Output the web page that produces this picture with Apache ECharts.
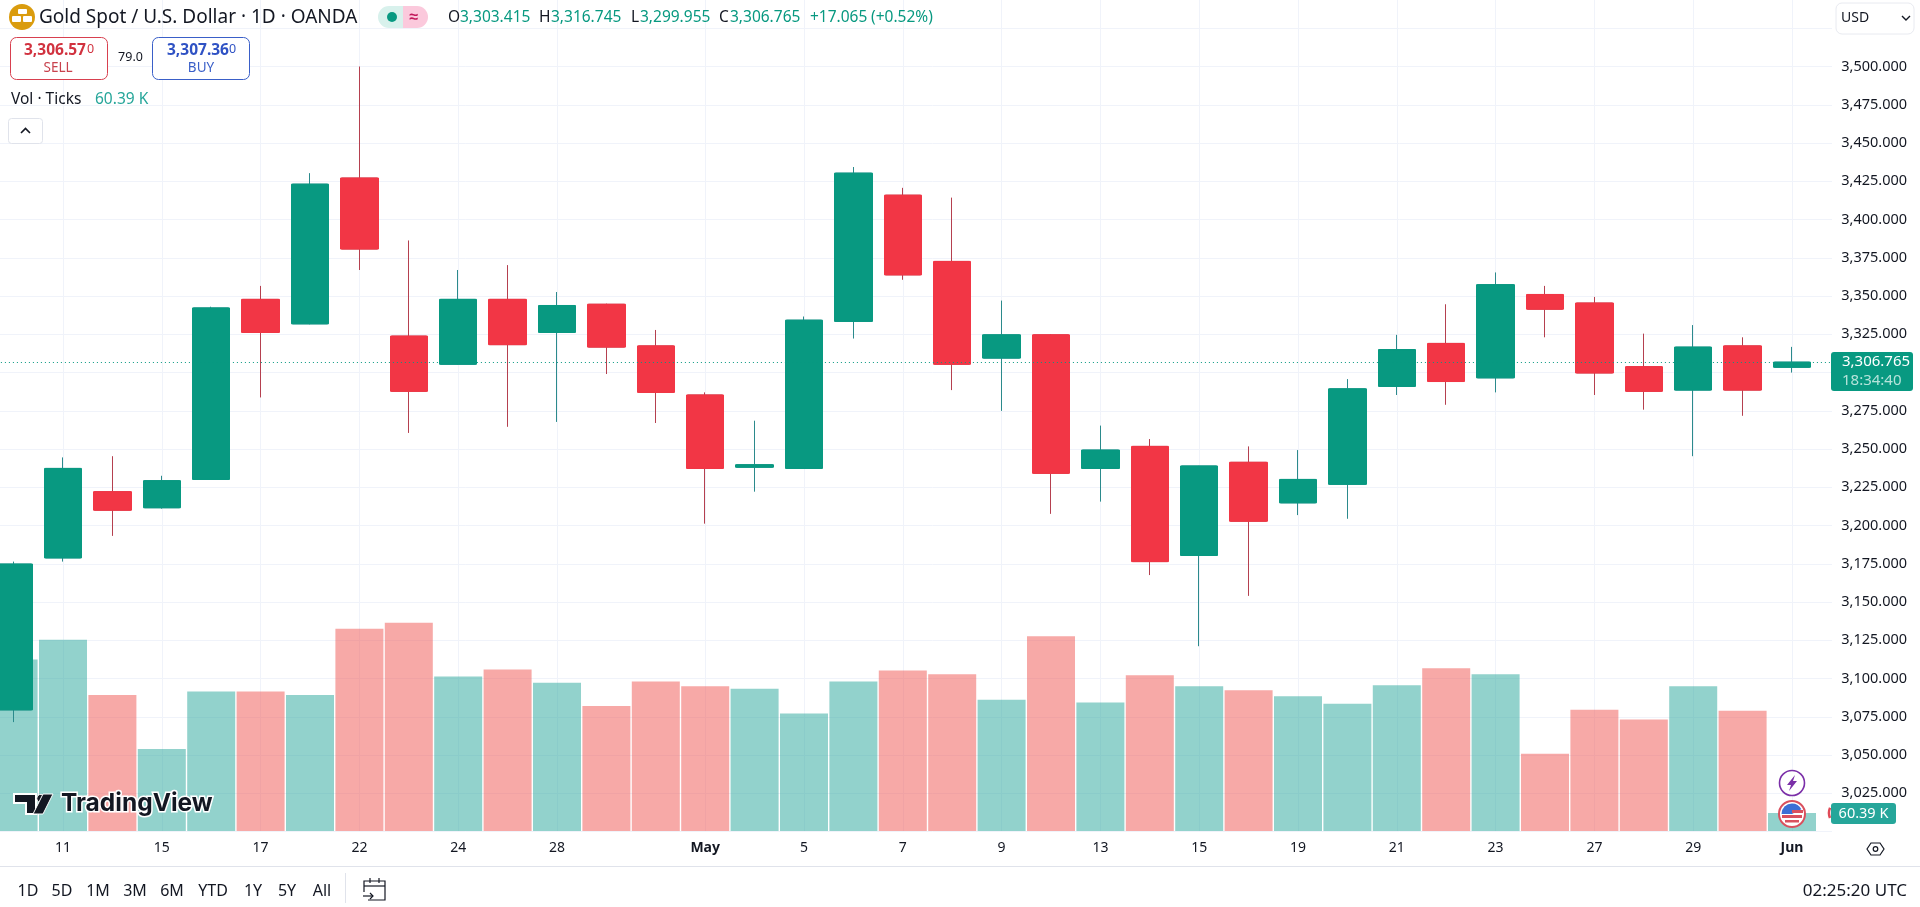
<!DOCTYPE html>
<html><head><meta charset="utf-8">
<style>html,body{margin:0;padding:0;background:#fff;overflow:hidden}#c{width:1920px;height:907px}</style>
<script src="https://cdn.jsdelivr.net/npm/echarts@6/dist/echarts.min.js"></script>
</head><body><div id="c"></div>
<script>
const categories=['Apr 10','Apr 11','Apr 14','Apr 15','Apr 16','Apr 17','Apr 21','Apr 22','Apr 23','Apr 24','Apr 25','Apr 28','Apr 29','Apr 30','May 1','May 2','May 5','May 6','May 7','May 8','May 9','May 12','May 13','May 14','May 15','May 16','May 19','May 20','May 21','May 22','May 23','May 26','May 27','May 28','May 29','May 30','Jun 2','Jun 3'];
const tickLabels=['','11','','15','','17','','22','','24','','28','','','May','','5','','7','','9','','13','','15','','19','','21','','23','','27','','29','','Jun',''];
const openValues=[3079.5,3178.8,3222.1,3211.6,3230.1,3347.8,3331.8,3427.1,3323.8,3305.4,3347.8,3326.2,3344.6,3317.4,3285.3,3238.1,3237.3,3333.4,3415.9,3372.6,3309.4,3324.6,3237.3,3251.7,3180.4,3241.3,3214.8,3226.9,3290.9,3319,3296.5,3351,3345.4,3303.8,3288.5,3317.4,3303.415];
const closeValues=[3174.8,3237.3,3210,3229.3,3342.2,3326.2,3423.1,3380.7,3287.7,3347.8,3318.2,3343.8,3316.6,3287,3237.3,3239.7,3334.2,3430.3,3363.8,3305.4,3324.6,3234.1,3249.3,3176.4,3238.9,3202.8,3230.1,3289.3,3315,3294.1,3357.4,3341.4,3299.7,3287.7,3316.6,3288.5,3306.765];
const lowValues=[3071.5,3176.4,3193.2,3211,3230,3283.7,3331.5,3367,3260.5,3305,3264.5,3267.7,3299,3267,3201.2,3222.1,3237,3322.2,3360.6,3288.5,3274.9,3207.6,3215.6,3167.6,3121.1,3154,3206.8,3204.4,3285.3,3278.9,3287,3323,3285.3,3275.7,3245.3,3271.7,3299.955];
const highValues=[3176.4,3244.5,3245.3,3232.5,3343,3356.6,3430.3,3500,3386.3,3367,3370.2,3352.6,3345,3327.8,3287,3268.5,3336.6,3434.3,3420.7,3414.3,3347,3325,3265.3,3256.5,3239,3251.7,3249.3,3295.7,3324.6,3344.6,3365.4,3356.6,3349.4,3325.4,3331,3323,3316.745];
const volumeValues=[575,641,456,275,468,468,456,678,698,518,542,497,419,501,485,477,394,501,538,526,440,653,431,522,485,472,452,427,489,546,526,259,407,374,485,403,60.39];
const priceTickLabels=[3025,3050,3075,3100,3125,3150,3175,3200,3225,3250,3275,3325,3350,3375,3400,3425,3450,3475,3500];
const lastPrice=3306.765;

const FF='"Noto Sans",sans-serif';
const UP='#089981',DN='#F23645',UPW='#2b8a8c',DNW='#b5404f';
function T(x,y,text,size,fill,o){o=o||{};return {type:'text',z:10,silent:true,style:{x,y,text,fill,font:(o.w||'normal')+' '+size+'px '+FF,textAlign:o.a||'left',textVerticalAlign:'middle'}};}
function R(x,y,w,h,r,fill,stroke,z,lw){return {type:'rect',z:z||9,silent:true,shape:{x,y,width:w,height:h,r},style:{fill,stroke:stroke||null,lineWidth:lw||1}};}
function L(pts,stroke,lw,z){return {type:'polyline',z:z||10,silent:true,shape:{points:pts},style:{stroke,fill:null,lineWidth:lw||1}};}
const tfs=[['1D',28],['5D',62],['1M',98],['3M',135],['6M',172],['YTD',213],['1Y',253],['5Y',287],['All',322]];
const g=[
 R(1832,0,88,832,0,'#fff',null,5),
 R(1836,3,78,31,6,'#fff','#e8eaf0',9),
 T(1841,18,'USD',14,'#131722'),
 L([[1902,16],[1906,20],[1910,16]],'#131722',1.4),
 // header
 {type:'circle',z:10,silent:true,shape:{cx:22,cy:17,r:13},style:{fill:'#DA9C0E'}},
 R(18,9,9,5,1,'#fff',null,11),R(12,16,9,6,1,'#fff',null,11),R(23,16,9,6,1,'#fff',null,11),
 T(39,18,'Gold Spot / U.S. Dollar · 1D · OANDA',19,'#131722'),
 {type:'rect',z:9,silent:true,shape:{x:378,y:6,width:25,height:22,r:[11,0,0,11]},style:{fill:'#d8f1ec'}},
 {type:'rect',z:9,silent:true,shape:{x:403,y:6,width:25,height:22,r:[0,11,11,0]},style:{fill:'#fbc9dc'}},
 {type:'circle',z:10,silent:true,shape:{cx:392,cy:17,r:5},style:{fill:UP}},
 T(414,17,'≈',16,'#c2185b',{a:'center',w:'bold'}),
 T(448,18,'O',15.5,'#131722'),T(460,18,'3,303.415',15.5,UP),
 T(539,18,'H',15.5,'#131722'),T(551,18,'3,316.745',15.5,UP),
 T(631,18,'L',15.5,'#131722'),T(640,18,'3,299.955',15.5,UP),
 T(719,18,'C',15.5,'#131722'),T(730,18,'3,306.765',15.5,UP),
 T(810,18,'+17.065',15.5,UP),T(871,18,'(+0.52%)',15.5,UP),
 R(10.5,37.5,97,42,6,'#fff','#d8404f'),
 T(24,51,'3,306.57',15.5,'#d1323f',{w:'bold'}),T(87,49,'0',12.5,'#d1323f'),
 T(58,68,'SELL',13.5,'#c8424d',{a:'center'}),
 T(130.5,57,'79.0',12.5,'#131722',{a:'center'}),
 R(152.5,37.5,97,42,6,'#fff','#3a5fc8'),
 T(167,51,'3,307.36',15.5,'#2f52c4',{w:'bold'}),T(229,49,'0',12.5,'#2f52c4'),
 T(201,68,'BUY',13.5,'#3a5fc8',{a:'center'}),
 T(11,99.5,'Vol · Ticks',15.5,'#131722'),T(95,99.5,'60.39 K',15.5,'#26a69a'),
 R(8.5,118.5,34,25,3,'#fff','#e0e3eb'),
 L([[21,133],[25.5,128.5],[30,133]],'#131722',1.6),
 // last-price tag
 R(1831,352,82,39,3,UP,null,9),
 T(1842,362,'3,306.765',15,'#fff'),T(1842,381,'18:34:40',15,'#b5e3da'),
 // volume tag and neighbouring event marker
 {type:'arc',z:8,silent:true,shape:{cx:1842,cy:813,r:13,startAngle:2.75,endAngle:3.55},style:{stroke:'#e04b58',lineWidth:2.5,fill:null}},
 R(1831,803,65,21,3,'#26a69a',null,9),
 T(1863.5,814,'60.39 K',14.5,'#fff',{a:'center'}),
 // event icons
 {type:'circle',z:10,silent:true,shape:{cx:1792,cy:783,r:12.5},style:{fill:'#fff',stroke:'#7b2fa8',lineWidth:1.6}},
 {type:'polygon',z:11,silent:true,shape:{points:[[1795,775],[1787,785],[1791,785],[1789,791],[1797,781],[1793,781]]},style:{fill:'#7b2fa8'}},
 {type:'circle',z:10,silent:true,shape:{cx:1792,cy:814,r:13},style:{fill:'#fff',stroke:'#d9505e',lineWidth:2}},
 {type:'sector',z:11,silent:true,shape:{cx:1792,cy:814,r:10.5,startAngle:Math.PI,endAngle:Math.PI*1.85},style:{fill:'#3b6fd6'}},
 R(1792,810,11,3,0,'#d9505e',null,11),R(1782,815,20,3,0,'#d9505e',null,11),R(1785,820,14,2.5,0,'#d9505e',null,11),
 // TradingView logo
 {type:'polygon',z:10,silent:true,shape:{points:[[14,794],[36,794],[36,814],[26,814],[26,803],[14,803]]},style:{fill:'#131722',stroke:'#fff',lineWidth:2}},
 {type:'circle',z:10,silent:true,shape:{cx:41,cy:798.5,r:4.2},style:{fill:'#131722',stroke:'#fff',lineWidth:1}},
 {type:'polygon',z:10,silent:true,shape:{points:[[43,794],[53,794],[43,814],[33,814]]},style:{fill:'#131722',stroke:'#fff',lineWidth:1}},
 {type:'text',z:10,silent:true,style:{x:61,y:804,text:'TradingView',fill:'#131722',stroke:'#fff',lineWidth:3,font:'700 24.5px Inter,'+FF,textVerticalAlign:'middle'}},
 // bottom bar
 {type:'line',z:9,silent:true,shape:{x1:0,y1:866.5,x2:1920,y2:866.5},style:{stroke:'#e0e3eb',lineWidth:1}},
 {type:'line',z:9,silent:true,shape:{x1:345.5,y1:873,x2:345.5,y2:903},style:{stroke:'#e0e3eb',lineWidth:1}},
 ...tfs.map(a=>T(a[1],891,a[0],16,'#131722',{a:'center'})),
 L([[368,900],[385,900],[385,881],[364,881],[364,892]],'#131722',1.2),
 L([[364,886],[385,886]],'#131722',1.2),L([[370,878],[370,883]],'#131722',1.2),L([[379,878],[379,883]],'#131722',1.2),
 L([[363,896],[373,896]],'#131722',1.2),L([[370,893],[373,896],[370,899]],'#131722',1.2),
 T(1907,891,'02:25:20 UTC',17,'#131722',{a:'right'}),
 {type:'polygon',z:10,silent:true,shape:{points:[[1867,849],[1871,843],[1880,843],[1884,849],[1880,855],[1871,855]]},style:{stroke:'#131722',fill:null,lineWidth:1.2}},
 {type:'circle',z:10,silent:true,shape:{cx:1875.5,cy:849,r:2.3},style:{stroke:'#131722',fill:null,lineWidth:1.2}}
];
const candles=openValues.map((o,i)=>[o,closeValues[i],lowValues[i],highValues[i]]);
const bodies=openValues.map((o,i)=>[o,closeValues[i],Math.min(o,closeValues[i]),Math.max(o,closeValues[i])]);
const vols=volumeValues.map((v,i)=>({value:v,itemStyle:{color:closeValues[i]>=openValues[i]?'rgba(38,166,154,0.5)':'rgba(239,83,80,0.5)'}}));
const chart=echarts.init(document.getElementById('c'),null,{renderer:'canvas',width:1920,height:907});
const GL=-11.1,GW=1877.2;
chart.setOption({
 animation:false,backgroundColor:'#fff',
 textStyle:{fontFamily:FF},
 grid:[
  {left:GL,width:GW,top:-10,height:841.5,outerBoundsMode:'none'},
  {left:GL,width:GW,top:500,height:331,outerBoundsMode:'none'}
 ],
 xAxis:[
  {type:'category',gridIndex:0,data:categories,axisLine:{show:false},axisTick:{show:false},axisLabel:{show:false},
   splitLine:{show:true,alignWithLabel:true,interval:(i)=>tickLabels[i]!=='',lineStyle:{color:'#f0f3fa',width:1}}},
  {type:'category',gridIndex:1,data:categories,axisLine:{show:false},axisTick:{show:false},splitLine:{show:false},
   axisLabel:{show:true,interval:0,margin:10,fontSize:14,color:'#131722',fontFamily:FF,hideOverlap:false,
    formatter:(v,i)=>{const s=tickLabels[i];return isNaN(+s)&&s?'{b|'+s+'}':s;},rich:{b:{fontWeight:'bold',fontSize:14,color:'#131722',fontFamily:FF}}}}
 ],
 yAxis:[
  {type:'value',gridIndex:0,min:3000,max:3550,interval:25,position:'left',axisLine:{show:false},axisTick:{show:false},axisLabel:{show:false},
   splitLine:{show:true,lineStyle:{color:'#f0f3fa',width:1}}},
  {type:'value',gridIndex:0,min:3000,max:3550,interval:25,position:'right',offset:41,z:6,axisLine:{show:false},axisTick:{show:false},splitLine:{show:false},
   axisLabel:{show:true,inside:true,margin:0,fontSize:14.5,color:'#131722',fontFamily:FF,
    formatter:(v)=>priceTickLabels.includes(v)?v.toLocaleString('en-US',{minimumFractionDigits:3,maximumFractionDigits:3}):''}},
  {type:'value',gridIndex:1,min:0,max:1110,show:false,splitLine:{show:false}}
 ],
 series:[
  {type:'bar',name:'Vol',xAxisIndex:1,yAxisIndex:2,data:vols,barWidth:48,z:1,silent:true},
  {type:'candlestick',name:'Wicks',xAxisIndex:0,yAxisIndex:0,data:candles,barWidth:36,z:2,silent:true,
   itemStyle:{color:UP,color0:DN,borderColor:UPW,borderColor0:DNW,borderWidth:1},
   markLine:{silent:true,symbol:'none',animation:false,label:{show:false},lineStyle:{type:[1,3],color:UP,width:1},data:[{yAxis:lastPrice}]}},
  {type:'candlestick',name:'Bodies',xAxisIndex:0,yAxisIndex:0,data:bodies,barWidth:38,z:3,silent:true,
   itemStyle:{color:UP,color0:DN,borderColor:UP,borderColor0:DN,borderWidth:1}}
 ],
 graphic:{elements:g}
});
</script></body></html>
